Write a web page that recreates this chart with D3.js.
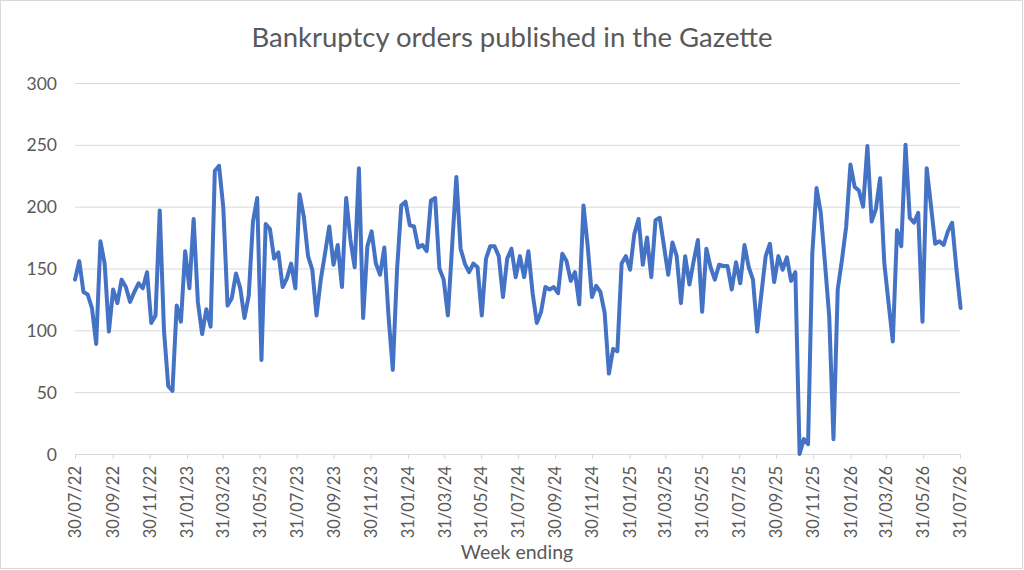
<!DOCTYPE html>
<html>
<head>
<meta charset="utf-8">
<script src="https://cdn.jsdelivr.net/npm/d3@7"></script>
<style>
  html,body{margin:0;padding:0;background:#fff;}
  svg text{font-family:Lato,"Open Sans",sans-serif;fill:#595959;}
  .grid line{stroke:#d9d9d9;stroke-width:1;}
  .grid .domain{display:none;}
  .xaxis .domain,.xaxis line{stroke:#d9d9d9;stroke-width:1;}
</style>
</head>
<body>
<svg id="chart" width="1024" height="570"></svg>
<script>
/* ===== Data ===== */
const title = 'Bankruptcy orders published in the Gazette';
const xTitle = 'Week ending';
const firstWeek = '30/07/22';   // week ending of the first value, one value per week after that
const axisStart = '30/07/22', axisEnd = '31/07/26';
const tickLabels = ['30/07/22','30/09/22','30/11/22','31/01/23','31/03/23','31/05/23','31/07/23','30/09/23',
  '30/11/23','31/01/24','31/03/24','31/05/24','31/07/24','30/09/24','30/11/24','31/01/25','31/03/25',
  '31/05/25','31/07/25','30/09/25','30/11/25','31/01/26','31/03/26','31/05/26','31/07/26'];
const yTicks = [0,50,100,150,200,250,300];
const orders = [
  141,156,131,129,118,89,172,154,99,133,122,141,135,123,131,138,134,147,106,112,197,100,55,51,120,107,164,
  134,190,123,97,117,103,229,233,199,120,126,146,134,110,128,188,207,76,186,182,158,163,135,142,154,134,
  210,192,160,149,112,141,162,184,153,169,135,207,173,151,231,110,168,180,154,145,167,111,68,149,201,204,
  185,184,167,169,164,205,207,150,141,112,168,224,166,154,147,154,151,112,158,168,168,160,127,158,166,143,
  160,143,164,130,106,115,135,133,135,130,162,156,140,147,121,201,168,127,136,131,114,65,85,83,154,
  160,149,178,190,153,175,143,189,191,168,145,171,160,122,160,137,156,173,115,166,151,141,153,152,152,133,
  155,138,169,151,141,99,130,160,170,139,160,149,159,140,147,0,12,8,162,215,195,154,111,12,133,157,
  184,234,216,213,200,249,188,198,223,154,122,91,181,168,250,191,187,195,107,231,201,170,172,169,180,187,150,118
];

/* ===== Helpers ===== */
const parse = d3.timeParse('%d/%m/%y');
const W = 1024, H = 570;
const m = {t:83, r:64, b:116, l:75};
const innerW = W-m.l-m.r, innerH = H-m.t-m.b;

const start = parse(firstWeek);
const pts = orders.map((v,i)=>({date:d3.timeDay.offset(start, 7*i), v}));

const svg = d3.select('#chart');
// outer chart border
svg.append('rect').attr('x',0.5).attr('y',0.5).attr('width',W-2).attr('height',H-2)
  .attr('fill','#fff').attr('stroke','#d9d9d9');

const g = svg.append('g').attr('transform',`translate(${m.l},${m.t})`);

const x = d3.scaleTime().domain([parse(axisStart), parse(axisEnd)]).range([0,innerW]);
const y = d3.scaleLinear().domain([0,300]).range([innerH,0]);

// gridlines + y labels
const yA = d3.axisLeft(y).tickValues(yTicks).tickSize(-innerW).tickPadding(18);
g.append('g').attr('class','grid').call(yA)
  .call(s=>s.selectAll('text').style('font-size','17.5px').attr('dy','0.35em'));

// x axis with rotated week-ending labels
const xA = d3.axisBottom(x).tickValues(tickLabels.map(parse)).tickFormat(d3.timeFormat('%d/%m/%y'))
  .tickSize(5).tickSizeOuter(0);
g.append('g').attr('class','xaxis').attr('transform',`translate(0,${innerH})`).call(xA)
  .call(s=>s.selectAll('text')
    .style('font-size','16.5px')
    .attr('transform','rotate(-90)')
    .attr('text-anchor','end')
    .attr('x',-12).attr('y',0).attr('dy','0.35em'));

// the series
const line = d3.line().x(d=>x(d.date)).y(d=>y(d.v));
g.append('path').datum(pts).attr('fill','none').attr('stroke','#4472c4')
  .attr('stroke-width',4).attr('stroke-linejoin','round').attr('stroke-linecap','round')
  .attr('d',line);

// titles
svg.append('text').attr('x',512).attr('y',47).attr('text-anchor','middle')
  .style('font-size','27.5px').text(title);
svg.append('text').attr('x',517).attr('y',559).attr('text-anchor','middle')
  .style('font-size','19.5px').text(xTitle);
</script>
</body>
</html>
